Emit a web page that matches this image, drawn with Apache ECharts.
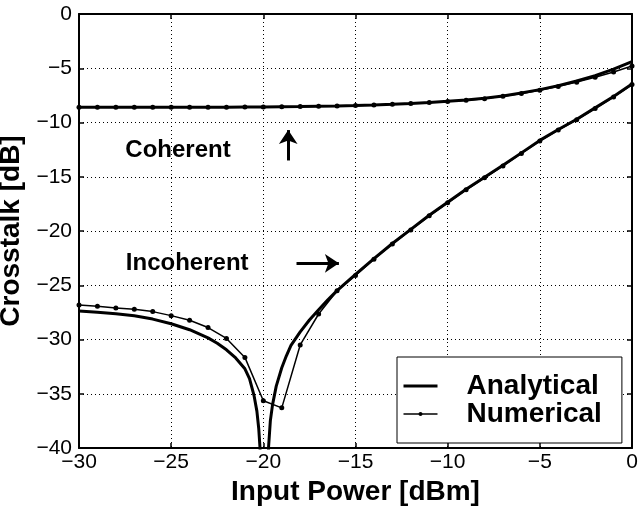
<!DOCTYPE html>
<html>
<head>
  <meta charset="UTF-8">
  <title>Crosstalk vs input power</title>
  <script src="https://cdn.jsdelivr.net/npm/echarts@6/dist/echarts.min.js"></script>
  <style>
    html, body { margin: 0; padding: 0; background: #fff; }
    #chart { width: 640px; height: 510px; }
  </style>
</head>
<body>
  <div id="chart"></div>
  <script>
    // input power [dBm], one marker per dB for the numerical curves
    const powerSteps = [-30, -29, -28, -27, -26, -25, -24, -23, -22, -21, -20, -19, -18, -17, -16,
                        -15, -14, -13, -12, -11, -10, -9, -8, -7, -6, -5, -4, -3, -2, -1, 0];

    // coherent crosstalk [dB]
    const coherentNumerical = [-8.6, -8.6, -8.6, -8.6, -8.6, -8.6, -8.6, -8.6, -8.59, -8.58, -8.57,
                               -8.55, -8.53, -8.5, -8.47, -8.43, -8.38, -8.32, -8.25, -8.16, -8.06,
                               -7.94, -7.8, -7.58, -7.32, -7.02, -6.68, -6.28, -5.83, -5.34, -4.8];
    const coherentAnalytical = [-8.6, -8.6, -8.6, -8.6, -8.6, -8.6, -8.6, -8.6, -8.59, -8.58, -8.57,
                                -8.55, -8.53, -8.5, -8.47, -8.43, -8.38, -8.32, -8.25, -8.16, -8.05,
                                -7.92, -7.77, -7.55, -7.28, -6.97, -6.6, -6.18, -5.68, -5.08, -4.38];

    // incoherent crosstalk [dB], numerical (markers)
    const incoherentNumerical = [-26.82, -26.94, -27.1, -27.22, -27.43, -27.8, -28.23, -28.9, -29.9,
                                 -31.65, -35.65, -36.3, -30.5, -27.65, -25.5, -24.1, -22.6, -21.2,
                                 -19.9, -18.6, -17.4, -16.2, -15.1, -14.0, -12.85, -11.7, -10.7,
                                 -9.75, -8.7, -7.65, -6.5];

    // incoherent crosstalk [dB], analytical (denser near the notch, null = gap below the axis)
    const incoherentAnalyticalX = [-30, -29, -28, -27, -26, -25, -24, -23, -22.5, -22, -21.5, -21,
                                   -20.75, -20.5, -20.35, -20.25, -20.18, -20.12, -19.95,
                                   -19.76, -19.72, -19.62, -19.5, -19.3, -19, -18.75, -18.5, -18,
                                   -17.5, -17, -16.5, -16, -15, -14, -13, -12, -11, -10, -9, -8,
                                   -7, -6, -5, -4, -3, -2, -1, 0];
    const incoherentAnalyticalY = [-27.37, -27.48, -27.62, -27.82, -28.12, -28.55, -29.1, -29.85,
                                   -30.35, -30.95, -31.7, -32.7, -33.6, -35.2, -36.6, -38.2, -40,
                                   -44, null, -44, -40, -37.5, -36.0, -34.3, -32.6, -31.5, -30.55,
                                   -29.3, -28.2, -27.25, -26.35, -25.5, -24.0, -22.55, -21.15,
                                   -19.85, -18.55, -17.35, -16.15, -15.05, -13.95, -12.8, -11.65,
                                   -10.65, -9.7, -8.65, -7.6, -6.45];

    const xTicks = [-30, -25, -20, -15, -10, -5, 0];
    const yTicks = [-40, -35, -30, -25, -20, -15, -10, -5, 0];

    const FONT = '"Liberation Sans", Arial, Helvetica, sans-serif';

    function pairs(xs, ys) {
      return xs.map((x, i) => [x, ys[i] === null ? '-' : ys[i]]);
    }
    function minus(v) {
      return String(v).replace('-', '\u2212');
    }

    const chart = echarts.init(document.getElementById('chart'));

    const sideAxis = {
      type: 'value', axisLabel: { show: false }, splitLine: { show: false },
      axisLine: { show: true, onZero: false, lineStyle: { color: '#000', width: 2 } },
      axisTick: { show: true, inside: true, length: 5, lineStyle: { color: '#000', width: 1.5 } }
    };

    const option = {
      animation: false,
      backgroundColor: '#fff',
      grid: { left: 79, right: 8, top: 14, bottom: 62, containLabel: false, outerBoundsMode: 'none' },
      xAxis: [{
        type: 'value', min: -30, max: 0, interval: 5,
        name: 'Input Power [dBm]', nameLocation: 'middle', nameGap: 30,
        nameTextStyle: { fontFamily: FONT, fontWeight: 'bold', fontSize: 28, color: '#000' },
        axisLine: { show: true, onZero: false, lineStyle: { color: '#000', width: 2 } },
        axisTick: { show: true, inside: true, length: 5, lineStyle: { color: '#000', width: 1.5 } },
        axisLabel: { fontFamily: FONT, fontSize: 21, color: '#000', margin: 4,
                     formatter: v => xTicks.includes(v) ? minus(v) : '' },
        splitLine: { show: true, lineStyle: { color: '#000', width: 1, type: [1, 3] } }
      }, Object.assign({ position: 'top', min: -30, max: 0, interval: 5 }, sideAxis)],
      yAxis: [{
        type: 'value', min: -40, max: 0, interval: 5,
        name: 'Crosstalk [dB]', nameLocation: 'middle', nameGap: 49,
        nameTextStyle: { fontFamily: FONT, fontWeight: 'bold', fontSize: 28, color: '#000' },
        axisLine: { show: true, onZero: false, lineStyle: { color: '#000', width: 2 } },
        axisTick: { show: true, inside: true, length: 5, lineStyle: { color: '#000', width: 1.5 } },
        axisLabel: { fontFamily: FONT, fontSize: 21, color: '#000', margin: 7,
                     formatter: v => yTicks.includes(v) ? minus(v) : '' },
        splitLine: { show: true, lineStyle: { color: '#000', width: 1, type: [1, 3] } }
      }, Object.assign({ position: 'right', min: -40, max: 0, interval: 5 }, sideAxis)],
      legend: {
        left: 397, top: 357, orient: 'vertical',
        backgroundColor: '#fff', borderColor: '#000', borderWidth: 1,
        padding: [15, 20, 15, 5], itemWidth: 34, itemHeight: 5, itemGap: 0,
        textStyle: { fontFamily: FONT, fontWeight: 'bold', fontSize: 28, color: '#000',
                     lineHeight: 25, padding: [0, 0, 0, 24] },
        data: [
          { name: 'Analytical', itemStyle: { opacity: 0 }, lineStyle: { width: 3 } },
          { name: 'Numerical', lineStyle: { width: 1.5 } }
        ]
      },
      series: [
        {
          name: 'Analytical', type: 'line', symbol: 'none', clip: true,
          lineStyle: { color: '#000', width: 3 }, itemStyle: { color: '#000' },
          data: pairs(powerSteps, coherentAnalytical),
          markPoint: {
            symbol: 'circle', symbolSize: 0, silent: true,
            label: { show: true, position: 'inside', formatter: '{b}', fontFamily: FONT,
                     fontWeight: 'bold', fontSize: 24, color: '#000' },
            data: [
              { name: 'Coherent', coord: [-24.63, -12.53] },
              { name: 'Incoherent', coord: [-24.13, -22.98] }
            ]
          },
          markLine: {
            silent: true, symbol: ['none', 'arrow'], symbolSize: 14,
            label: { show: false },
            lineStyle: { color: '#000', width: 3, type: 'solid' },
            data: [
              [{ coord: [-18.65, -13.5] }, { coord: [-18.65, -10.7] }],
              [{ coord: [-18.2, -22.98] }, { coord: [-15.9, -22.98] }]
            ]
          }
        },
        {
          name: 'Analytical', type: 'line', symbol: 'none', clip: true, connectNulls: false,
          lineStyle: { color: '#000', width: 3 }, itemStyle: { color: '#000' },
          data: pairs(incoherentAnalyticalX, incoherentAnalyticalY)
        },
        {
          name: 'Numerical', type: 'line', symbol: 'circle', symbolSize: 5, clip: true,
          lineStyle: { color: '#000', width: 1.5 }, itemStyle: { color: '#000' },
          data: pairs(powerSteps, coherentNumerical)
        },
        {
          name: 'Numerical', type: 'line', symbol: 'circle', symbolSize: 5, clip: true,
          lineStyle: { color: '#000', width: 1.5 }, itemStyle: { color: '#000' },
          data: pairs(powerSteps, incoherentNumerical)
        }
      ]
    };

    chart.setOption(option);
  </script>
</body>
</html>
